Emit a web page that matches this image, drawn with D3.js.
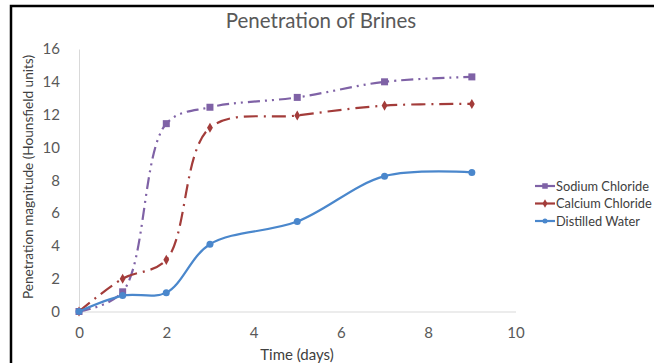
<!DOCTYPE html>
<html><head><meta charset="utf-8">
<script src="https://cdn.jsdelivr.net/npm/d3@7"></script>
<style>body{margin:0;background:#fff}svg{display:block}</style>
</head><body>
<svg id="c" width="654" height="363"></svg>
<script>
const days = [0, 1, 2, 3, 5, 7, 9];
const sodiumChloride = [0, 1.2, 11.45, 12.45, 13.05, 14.0, 14.3];
const calciumChloride = [0, 2.0, 3.15, 11.2, 11.95, 12.55, 12.65];
const distilledWater = [0, 0.97, 1.15, 4.1, 5.48, 8.25, 8.48];
const seriesNames = ["Sodium Chloride", "Calcium Chloride", "Distilled Water"];
const xTicks = [0, 2, 4, 6, 8, 10];
const yTicks = [0, 2, 4, 6, 8, 10, 12, 14, 16];

const font = "Lato, 'Open Sans', sans-serif";
const svg = d3.select("#c");
const x = d3.scaleLinear().domain([0, 10]).range([79, 515.5]);
const y = d3.scaleLinear().domain([0, 16]).range([311.5, 49]);

// frame border
svg.append("path").attr("d", "M11,363 V6 H654").attr("fill", "none").attr("stroke", "#000").attr("stroke-width", 2.5);

// title
svg.append("text").attr("x", 321).attr("y", 28).attr("text-anchor", "middle")
  .attr("font-family", font).attr("font-size", 20.5).attr("fill", "#595959").text("Penetration of Brines");

// axes
const yAxis = d3.axisLeft(y).tickValues(yTicks).tickSize(0).tickPadding(19);
const gy = svg.append("g").attr("transform", `translate(${x(0)},0)`).call(yAxis);
gy.select(".domain").attr("stroke", "#d9d9d9");
gy.selectAll("text").attr("font-family", font).attr("font-size", 15).attr("fill", "#595959");

const xAxis = d3.axisBottom(x).tickValues(xTicks).tickSize(0).tickPadding(16);
const gx = svg.append("g").attr("transform", `translate(0,${y(0)})`).call(xAxis);
gx.select(".domain").attr("stroke", "#d9d9d9");
gx.selectAll("text").attr("font-family", font).attr("font-size", 15).attr("fill", "#595959");

// axis titles
svg.append("text").attr("x", 297).attr("y", 360).attr("text-anchor", "middle")
  .attr("font-family", font).attr("font-size", 15).attr("fill", "#404040").text("Time (days)");
svg.append("text").attr("transform", "translate(33,177) rotate(-90)").attr("text-anchor", "middle")
  .attr("font-family", font).attr("font-size", 13.6).attr("fill", "#404040")
  .text("Penetration magnitude (Hounsfield units)");

const series = [
  {name: seriesNames[0], vals: sodiumChloride, color: "#7f62a6", dash: "12,5,2,5,2,5", marker: "square"},
  {name: seriesNames[1], vals: calciumChloride, color: "#a33c3a", dash: "14,6,2,6", marker: "diamond"},
  {name: seriesNames[2], vals: distilledWater, color: "#4a87cc", dash: null, marker: "circle"}
];

const line = d3.line().x(d => x(d[0])).y(d => y(d[1])).curve(d3.curveCatmullRom.alpha(0.5));

function drawMarker(g, type, cx, cy, color, s) {
  if (type === "square") {
    g.append("rect").attr("x", cx - s/2).attr("y", cy - s/2).attr("width", s).attr("height", s).attr("fill", color);
  } else if (type === "diamond") {
    g.append("path").attr("d", d3.symbol(d3.symbolDiamond, s * s * 0.7)()).attr("transform", `translate(${cx},${cy})`).attr("fill", color);
  } else {
    g.append("circle").attr("cx", cx).attr("cy", cy).attr("r", s/2).attr("fill", color);
  }
}

series.forEach(s => {
  const pts = days.map((d, i) => [d, s.vals[i]]);
  svg.append("path").attr("d", line(pts)).attr("fill", "none").attr("stroke", s.color)
    .attr("stroke-width", 2.2).attr("stroke-dasharray", s.dash);
  const g = svg.append("g");
  pts.forEach(p => drawMarker(g, s.marker, x(p[0]), y(p[1]), s.color, s.marker === "diamond" ? 6.5 : 7));
});

// legend
series.forEach((s, i) => {
  const ly = 186 + i * 17.5;
  svg.append("line").attr("x1", 535).attr("x2", 555).attr("y1", ly).attr("y2", ly)
    .attr("stroke", s.color).attr("stroke-width", 2.2);
  drawMarker(svg, s.marker, 545, ly, s.color, s.marker === "circle" ? 5 : 5.5);
  svg.append("text").attr("x", 556).attr("y", ly + 4.5).attr("font-family", font).attr("font-size", 12.8)
    .attr("fill", "#404040").text(s.name);
});
</script>
</body></html>
